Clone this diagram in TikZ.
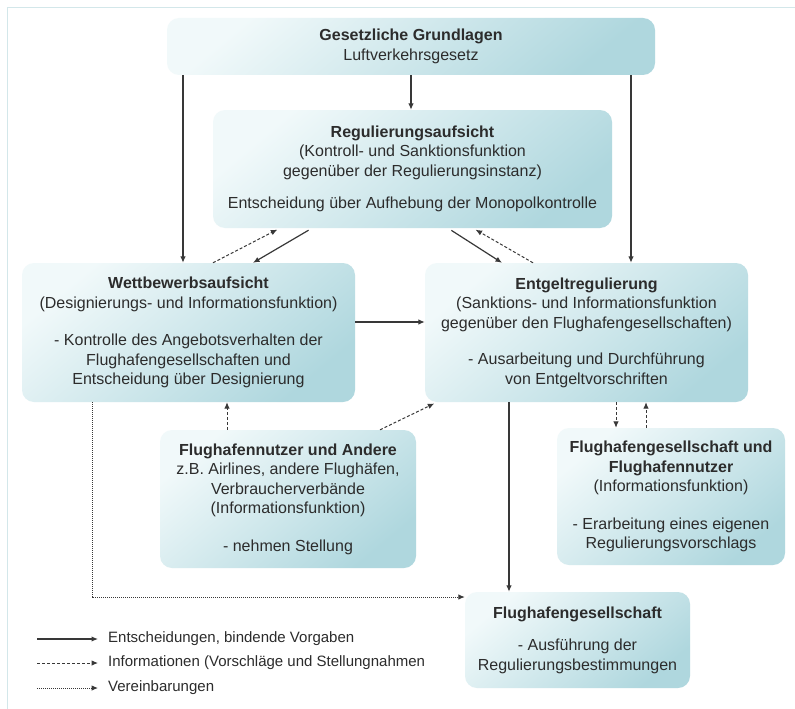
\documentclass[tikz,border=0pt]{standalone}
\usepackage{fontspec}
\setmainfont{Liberation Sans}
\usetikzlibrary{arrows.meta,calc}
\definecolor{boxlight}{HTML}{F1F9FA}
\definecolor{boxdark}{HTML}{AFD7DE}
\definecolor{txt}{HTML}{2C2C2C}
\definecolor{lin}{HTML}{383838}
\definecolor{framec}{HTML}{D3E7EA}
\begin{document}
\begin{tikzpicture}[x=1pt,y=-1pt,
  box/.style={rounded corners=12pt, top color=boxlight, bottom color=boxdark,
    shading angle=40, align=center, text=txt, inner sep=0pt,
    font=\fontsize{16}{19.5}\selectfont},
  tip/.style={-{Latex[length=6.5pt,width=5.5pt]}},
  solidarr/.style={draw=lin, line width=1.2pt, tip},
  dasharr/.style={draw=lin, line width=1pt, dash pattern=on 3pt off 2pt, tip},
  dotarr/.style={draw=lin, line width=1pt, dash pattern=on 1pt off 1pt, tip},
  legtext/.style={anchor=west, text=txt, inner sep=0pt, font=\fontsize{15}{17}\selectfont}]
\useasboundingbox (0,0) rectangle (795,709);
\fill[white] (0,0) rectangle (795,709);
\draw[framec, line width=1.5pt] (7.5,709) -- (7.5,7.5) -- (795,7.5);

\node[box, minimum width=488pt, minimum height=57pt] (top) at (411,46.5)
  {\textbf{Gesetzliche Grundlagen}\\Luftverkehrsgesetz};
\node[box, minimum width=399pt, minimum height=118pt] (reg) at (412.5,169)
  {\textbf{Regulierungsaufsicht}\\(Kontroll- und Sanktionsfunktion\\gegenüber der Regulierungsinstanz)\\[13pt]Entscheidung über Aufhebung der Monopolkontrolle};
\node[box, minimum width=333pt, minimum height=139pt] (wett) at (188.5,332.5)
  {\textbf{Wettbewerbsaufsicht}\\(Designierungs- und Informationsfunktion)\\[18pt]- Kontrolle des Angebotsverhalten der\\Flughafengesellschaften und\\Entscheidung über Designierung};
\node[box, minimum width=323pt, minimum height=139pt] (entg) at (586.5,332.5)
  {\textbf{Entgeltregulierung}\\(Sanktions- und Informationsfunktion\\gegenüber den Flughafengesellschaften)\\[17pt]- Ausarbeitung und Durchführung\\von Entgeltvorschriften};
\node[box, minimum width=256pt, minimum height=138pt] (fna) at (288,499)
  {\textbf{Flughafennutzer und Andere}\\z.B. Airlines, andere Flughäfen,\\Verbraucherverbände\\(Informationsfunktion)\\[18pt]- nehmen Stellung};
\node[box, minimum width=228pt, minimum height=137pt] (fgfn) at (671,496.5)
  {\textbf{Flughafengesellschaft und}\\\textbf{Flughafennutzer}\\(Informationsfunktion)\\[18pt]- Erarbeitung eines eigenen\\Regulierungsvorschlags};
\node[box, minimum width=225pt, minimum height=96pt] (fg) at (577.5,640)
  {\textbf{Flughafengesellschaft}\\[13pt]- Ausführung der\\Regulierungsbestimmungen};

% connectors
\draw[solidarr] (183,0 |- top.south) -- (183,0 |- wett.north);
\draw[solidarr] (411,0 |- top.south) -- (411,0 |- reg.north);
\draw[solidarr] (631,0 |- top.south) -- (631,0 |- entg.north);
\draw[solidarr, shorten <=4pt] (312,0 |- reg.south) -- (253,0 |- wett.north);
\draw[dasharr, shorten >=3pt] (213,0 |- wett.north) -- (280,0 |- reg.south);
\draw[solidarr, shorten <=4pt] (448,0 |- reg.south) -- (502,0 |- entg.north);
\draw[dasharr, shorten >=3pt] (533,0 |- entg.north) -- (473,0 |- reg.south);
\draw[solidarr] (wett.east |- 0,322) -- (entg.west |- 0,322);
\draw[dasharr] (227,0 |- fna.north) -- (227,0 |- wett.south);
\draw[dasharr, shorten >=3pt] (380,0 |- fna.north) -- (437,0 |- entg.south);
\draw[dasharr] (616,0 |- entg.south) -- (616,0 |- fgfn.north);
\draw[dasharr] (646,0 |- fgfn.north) -- (646,0 |- entg.south);
\draw[solidarr] (509,0 |- entg.south) -- (509,0 |- fg.north);
\draw[dotarr] (92,0 |- wett.south) -- (92,597) -- (fg.west |- 0,597);

% legend
\node[legtext] (l1) at (108,639) {Entscheidungen, bindende Vorgaben};
\node[legtext] (l2) at (108,663) {Informationen (Vorschläge und Stellungnahmen};
\node[legtext] (l3) at (108,688) {Vereinbarungen};
\coordinate (c1) at (37,639);
\coordinate (c2) at (37,663);
\coordinate (c3) at (37,688);
\draw[solidarr, shorten >=10pt] (c1) -- (l1.west |- c1);
\draw[dasharr, shorten >=10pt] (c2) -- (l2.west |- c2);
\draw[dotarr, shorten >=10pt] (c3) -- (l3.west |- c3);
\end{tikzpicture}
\end{document}
